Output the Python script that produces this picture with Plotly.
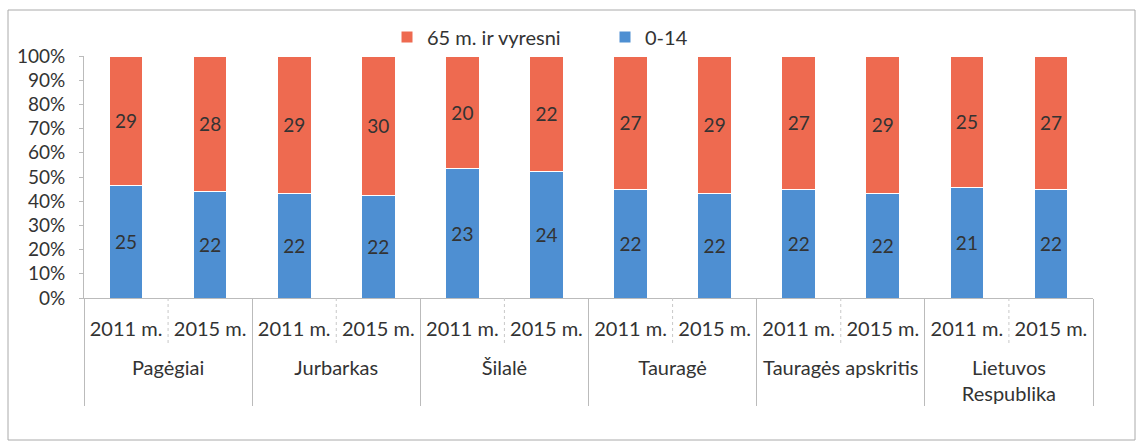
import plotly.graph_objects as go

regions = ["Pagėgiai", "Pagėgiai", "Jurbarkas", "Jurbarkas", "Šilalė", "Šilalė",
           "Tauragė", "Tauragė", "Tauragės apskritis", "Tauragės apskritis",
           "Lietuvos<br>Respublika", "Lietuvos<br>Respublika"]
years = ["2011 m.", "2015 m."] * 6
age_0_14 = [25, 22, 22, 22, 23, 24, 22, 22, 22, 22, 21, 22]
age_65 = [29, 28, 29, 30, 20, 22, 27, 29, 27, 29, 25, 27]

FONT = "Lato, 'Open Sans', sans-serif"
FS = 19
W, H = 1144, 447
L, R, T, B = 84, 51, 56, 149

group_labels = ["<br>" + r for r in regions]

fig = go.Figure()
fig.add_trace(go.Bar(
    x=[group_labels, years], y=age_0_14, name="0-14",
    marker=dict(color="#4E8FD2", line=dict(color="white", width=1)),
    text=age_0_14, textposition="inside", insidetextanchor="middle",
    textfont=dict(color="#333333", size=FS, family=FONT),
))
fig.add_trace(go.Bar(
    x=[group_labels, years], y=age_65, name="65 m. ir vyresni",
    marker=dict(color="#EE6A50", line=dict(color="white", width=1)),
    text=age_65, textposition="inside", insidetextanchor="middle",
    textfont=dict(color="#333333", size=FS, family=FONT),
))

pw = W - L - R
ph = H - T - B
def px_x(p):
    return (p - L) / pw
def px_y(p):
    return (H - B - p) / ph

# light dotted separators between the two years inside each group (category index space)
n = len(years)
year_seps = [dict(type="line", xref="x", yref="paper", x0=i + 0.5, x1=i + 0.5,
                  y0=0, y1=px_y(345), line=dict(color="#c8c8c8", width=1, dash="dot"))
             for i in range(0, n, 2)]

fig.update_layout(
    width=W, height=H,
    margin=dict(l=L, r=R, t=T, b=B, autoexpand=False),
    barmode="stack", barnorm="percent", bargap=0.6,
    plot_bgcolor="white", paper_bgcolor="white",
    font=dict(family=FONT, size=FS, color="#333333"),
    uniformtext=dict(mode="show", minsize=FS),
    showlegend=True,
    legend=dict(orientation="h", x=px_x(387), xanchor="left", y=px_y(37), yanchor="middle",
                traceorder="reversed", font=dict(size=20, color="#333333"),
                itemwidth=30, entrywidth=173, bgcolor="rgba(0,0,0,0)"),
    xaxis=dict(type="multicategory", showline=True, linecolor="#bbbbbb", linewidth=1,
               showdividers=True, dividercolor="#bbbbbb", dividerwidth=1,
               ticklabelstandoff=13,
               tickfont=dict(size=20, color="#333333"), showgrid=False),
    yaxis=dict(range=[0, 100], dtick=10, ticksuffix="%", showgrid=False,
               showline=True, linecolor="#bbbbbb", linewidth=1, ticks="outside",
               ticklen=4, tickcolor="#bbbbbb", tickfont=dict(size=FS, color="#333333"),
               ticklabelstandoff=10, zeroline=False),
    shapes=[dict(type="rect", xref="paper", yref="paper",
                 x0=px_x(8), x1=px_x(1135), y0=px_y(440), y1=px_y(10),
                 line=dict(color="#aaaaaa", width=1), layer="below")] + year_seps,
)

fig.write_html("out.html", config={"displayModeBar": False},
               post_script="document.body.style.margin='0';document.body.style.overflow='hidden';")
